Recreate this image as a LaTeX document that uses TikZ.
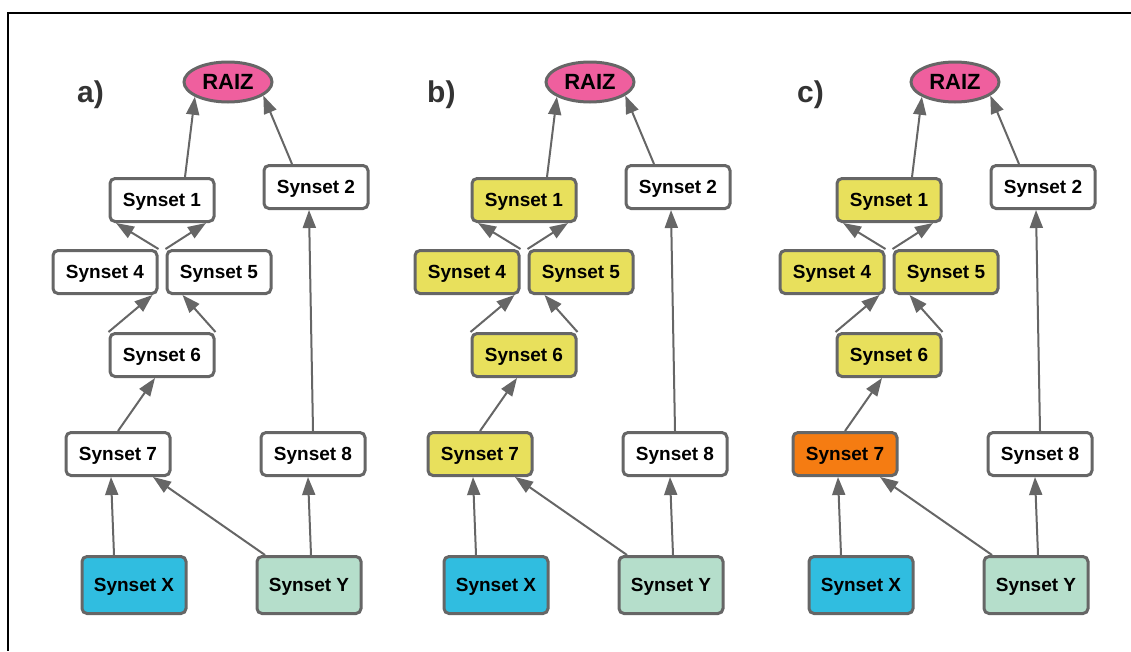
\documentclass[tikz,border=0pt]{standalone}
\usepackage{fontspec}
\setmainfont{Liberation Sans}
\usetikzlibrary{arrows.meta,shapes.geometric}

\definecolor{edgegray}{HTML}{666666}
\definecolor{raizpink}{HTML}{EF5F9E}
\definecolor{hlyellow}{HTML}{E8E05C}
\definecolor{hlorange}{HTML}{F57C12}
\definecolor{xblue}{HTML}{30BDE0}
\definecolor{ymint}{HTML}{B5DECB}
\definecolor{labelgray}{HTML}{333333}

\tikzset{
  synbox/.style={draw=edgegray, line width=3pt, rounded corners=5pt,
    minimum width=104pt, minimum height=43pt, inner sep=0pt, text depth=0pt,
    font=\fontsize{19}{22}\selectfont\bfseries, text=black},
  leafbox/.style={synbox, minimum height=57pt},
  rootnode/.style={ellipse, draw=edgegray, line width=3pt, fill=raizpink,
    minimum width=88pt, minimum height=40pt, inner sep=0pt, text depth=0pt,
    font=\fontsize{22}{26}\selectfont\bfseries, text=black},
  synlink/.style={draw=edgegray, line width=2pt,
    -{Triangle[length=18pt,width=13pt]}},
  panellabel/.style={anchor=base west, inner sep=0pt, text=labelgray,
    font=\fontsize{30}{34}\selectfont\bfseries},
}

% #1 name prefix, #2 horizontal offset, #3 label, #4 label x,
% #5 fill of synsets 1/4/5/6, #6 fill of synset 7
\newcommand\drawpanel[6]{%
  \begin{scope}[xshift=#2pt]
    \node[rootnode] (#1raiz) at (228,82) {RAIZ};
    \node[synbox, fill=#5] (#1s1) at (162,200) {Synset 1};
    \node[synbox, fill=white] (#1s2) at (316,187) {Synset 2};
    \node[synbox, fill=#5] (#1s4) at (105,272) {Synset 4};
    \node[synbox, fill=#5] (#1s5) at (219,272) {Synset 5};
    \node[synbox, fill=#5] (#1s6) at (162,355) {Synset 6};
    \node[synbox, fill=#6] (#1s7) at (118,454) {Synset 7};
    \node[synbox, fill=white] (#1s8) at (313,454) {Synset 8};
    \node[leafbox, fill=xblue] (#1sx) at (134,585) {Synset X};
    \node[leafbox, fill=ymint] (#1sy) at (309,585) {Synset Y};
    \draw[synlink] ([xshift=23pt]#1s1.north) -- (#1raiz.204);
    \draw[synlink] ([xshift=-24pt]#1s2.north) -- (#1raiz.339);
    \draw[synlink] (#1s4.north east) -- ([xshift=-46pt]#1s1.south);
    \draw[synlink] (#1s5.north west) -- ([xshift=44pt]#1s1.south);
    \draw[synlink] (#1s6.north west) -- ([xshift=-6pt]#1s4.south east);
    \draw[synlink] (#1s6.north east) -- ([xshift=17pt]#1s5.south west);
    \draw[synlink] (#1s7.north) -- ([xshift=-7pt]#1s6.south);
    \draw[synlink] ([xshift=-20pt]#1sx.north) -- ([xshift=-7pt]#1s7.south);
    \draw[synlink] ([xshift=-44pt]#1sy.north) -- ([xshift=35pt]#1s7.south);
    \draw[synlink] ([xshift=2pt]#1sy.north) -- ([xshift=-5pt]#1s8.south);
    \draw[synlink] (#1s8.north) -- ([xshift=-7pt]#1s2.south);
  \end{scope}
  \node[panellabel] (#1label) at (#4,102) {#3};
}

\begin{document}
\begin{tikzpicture}[x=1pt,y=-1pt]
  \useasboundingbox (0,0) rectangle (1131,651);
  % frame along the top and left edges
  \draw[line width=2.5pt, black] (1131,13) -- (8,13) -- (8,651);

  \drawpanel{a}{0}{a)}{77}{white}{white}
  \drawpanel{b}{362}{b)}{427}{hlyellow}{hlyellow}
  \drawpanel{c}{727}{c)}{797}{hlyellow}{hlorange}
\end{tikzpicture}
\end{document}
